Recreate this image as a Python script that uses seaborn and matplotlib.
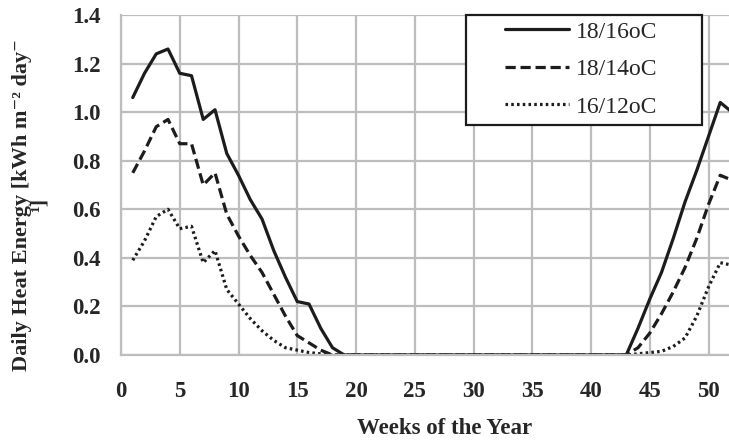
import matplotlib
matplotlib.use("Agg")
import matplotlib.pyplot as plt
from matplotlib.ticker import MultipleLocator
from matplotlib.patches import Rectangle
import seaborn as sns
import pandas as pd
import numpy as np

# weekly values (kWh m-2 day-1)
weeks = list(range(1, 53))
t_18_16 = [1.06, 1.16, 1.24, 1.26, 1.16, 1.15, 0.97, 1.01, 0.83, 0.74,
           0.64, 0.56, 0.43, 0.32, 0.22, 0.21, 0.11, 0.03, 0.0, 0.0,
           0.0, 0.0, 0.0, 0.0, 0.0, 0.0, 0.0, 0.0, 0.0, 0.0,
           0.0, 0.0, 0.0, 0.0, 0.0, 0.0, 0.0, 0.0, 0.0, 0.0,
           0.0, 0.0, 0.0, 0.11, 0.23, 0.34, 0.48, 0.63, 0.76, 0.90,
           1.04, 1.00]
t_18_14 = [0.75, 0.84, 0.94, 0.97, 0.87, 0.87, 0.70, 0.75, 0.58, 0.49,
           0.41, 0.34, 0.25, 0.16, 0.08, 0.05, 0.02, 0.0, 0.0, 0.0,
           0.0, 0.0, 0.0, 0.0, 0.0, 0.0, 0.0, 0.0, 0.0, 0.0,
           0.0, 0.0, 0.0, 0.0, 0.0, 0.0, 0.0, 0.0, 0.0, 0.0,
           0.0, 0.0, 0.0, 0.03, 0.09, 0.17, 0.26, 0.36, 0.48, 0.62,
           0.74, 0.72]
t_16_12 = [0.39, 0.47, 0.57, 0.60, 0.52, 0.53, 0.38, 0.43, 0.27, 0.21,
           0.15, 0.10, 0.06, 0.03, 0.02, 0.01, 0.005, 0.0, 0.0, 0.0,
           0.0, 0.0, 0.0, 0.0, 0.0, 0.0, 0.0, 0.0, 0.0, 0.0,
           0.0, 0.0, 0.0, 0.0, 0.0, 0.0, 0.0, 0.0, 0.0, 0.0,
           0.0, 0.0, 0.0, 0.005, 0.01, 0.015, 0.035, 0.07, 0.16, 0.28,
           0.38, 0.37]
series_names = ["18/16oC", "18/14oC", "16/12oC"]

df = pd.DataFrame({"week": weeks * 3,
                   "energy": t_18_16 + t_18_14 + t_16_12,
                   "setpoint": np.repeat(series_names, len(weeks))})

sns.set_style("white")
plt.rcParams["font.family"] = ["Liberation Serif", "DejaVu Serif"]

W, H = 729, 441
fig = plt.figure(figsize=(W / 100, H / 100), dpi=100)
# axes box in pixels: x 121..732, y 15..355 (from the top)
ax = fig.add_axes([121 / W, 1 - 355 / H, (732 - 121) / W, 340 / H])

ink = "#1c1c1c"
dashes = {"18/16oC": None, "18/14oC": (3.2, 1.5), "16/12oC": (0.8, 1.0)}
for name in series_names:
    sub = df[df["setpoint"] == name]
    sns.lineplot(data=sub, x="week", y="energy", ax=ax, color=ink,
                 linewidth=2.3, label=name)
    if dashes[name] is not None:
        ax.lines[-1].set_dashes(dashes[name])

ax.set_xlim(0, 52)
ax.set_ylim(0, 1.4)
ax.xaxis.set_major_locator(MultipleLocator(5))
ax.xaxis.set_minor_locator(MultipleLocator(1))
ax.yaxis.set_minor_locator(MultipleLocator(0.1))
ax.set_yticks(np.arange(0, 1.41, 0.2))
ax.set_yticklabels([f"{v:.1f}" for v in np.arange(0, 1.41, 0.2)])

grid_col = "#bdbdbd"
ax.grid(True, which="major", color=grid_col, linewidth=1.6)
ax.set_axisbelow(True)
for side in ["top", "right"]:
    ax.spines[side].set_visible(False)
for side in ["left", "bottom"]:
    ax.spines[side].set_color(grid_col)
    ax.spines[side].set_linewidth(1.6)

ax.tick_params(axis="both", which="major", direction="out", width=1.4,
               color=grid_col, labelsize=16.5, labelcolor="#262626")
ax.tick_params(axis="x", which="major", length=6, pad=13)
ax.tick_params(axis="y", which="major", length=4.5, pad=10)
ax.tick_params(axis="both", which="minor", direction="in", length=4,
               width=1.2, color=grid_col)
for lab in ax.get_xticklabels() + ax.get_yticklabels():
    lab.set_fontweight("bold")

ax.set_xlabel("")
ax.set_ylabel("")
fig.text(445 / W, 1 - 428 / H, "Weeks of the Year", ha="center",
         va="center", fontsize=16.5, fontweight="bold", color="#262626")
fig.text(31 / W, 1 - 205 / H,
         "Daily Heat Energy [kWh m\u207b\u00b2 day\u207b\n\u00b9]",
         rotation=90, ha="center", va="center", multialignment="center",
         fontsize=16, fontweight="bold", color="#262626", linespacing=0.85)

# legend box drawn as a plain rectangle, entries placed inside it
box = Rectangle((466 / W, 1 - 125 / H), (702 - 466) / W, 110 / H,
                transform=fig.transFigure, facecolor="white", edgecolor=ink,
                linewidth=1.6, zorder=4, clip_on=False)
ax.add_artist(box)
leg = ax.legend(loc="upper left", bbox_to_anchor=(505 / W, 1 - 21 / H),
                bbox_transform=fig.transFigure, frameon=False,
                fontsize=17, handlelength=2.7, handletextpad=0.3,
                borderpad=0, labelspacing=0.68, borderaxespad=0)
leg.set_zorder(5)
for t in leg.get_texts():
    t.set_color("#262626")

fig.savefig("out.png", dpi=100)
